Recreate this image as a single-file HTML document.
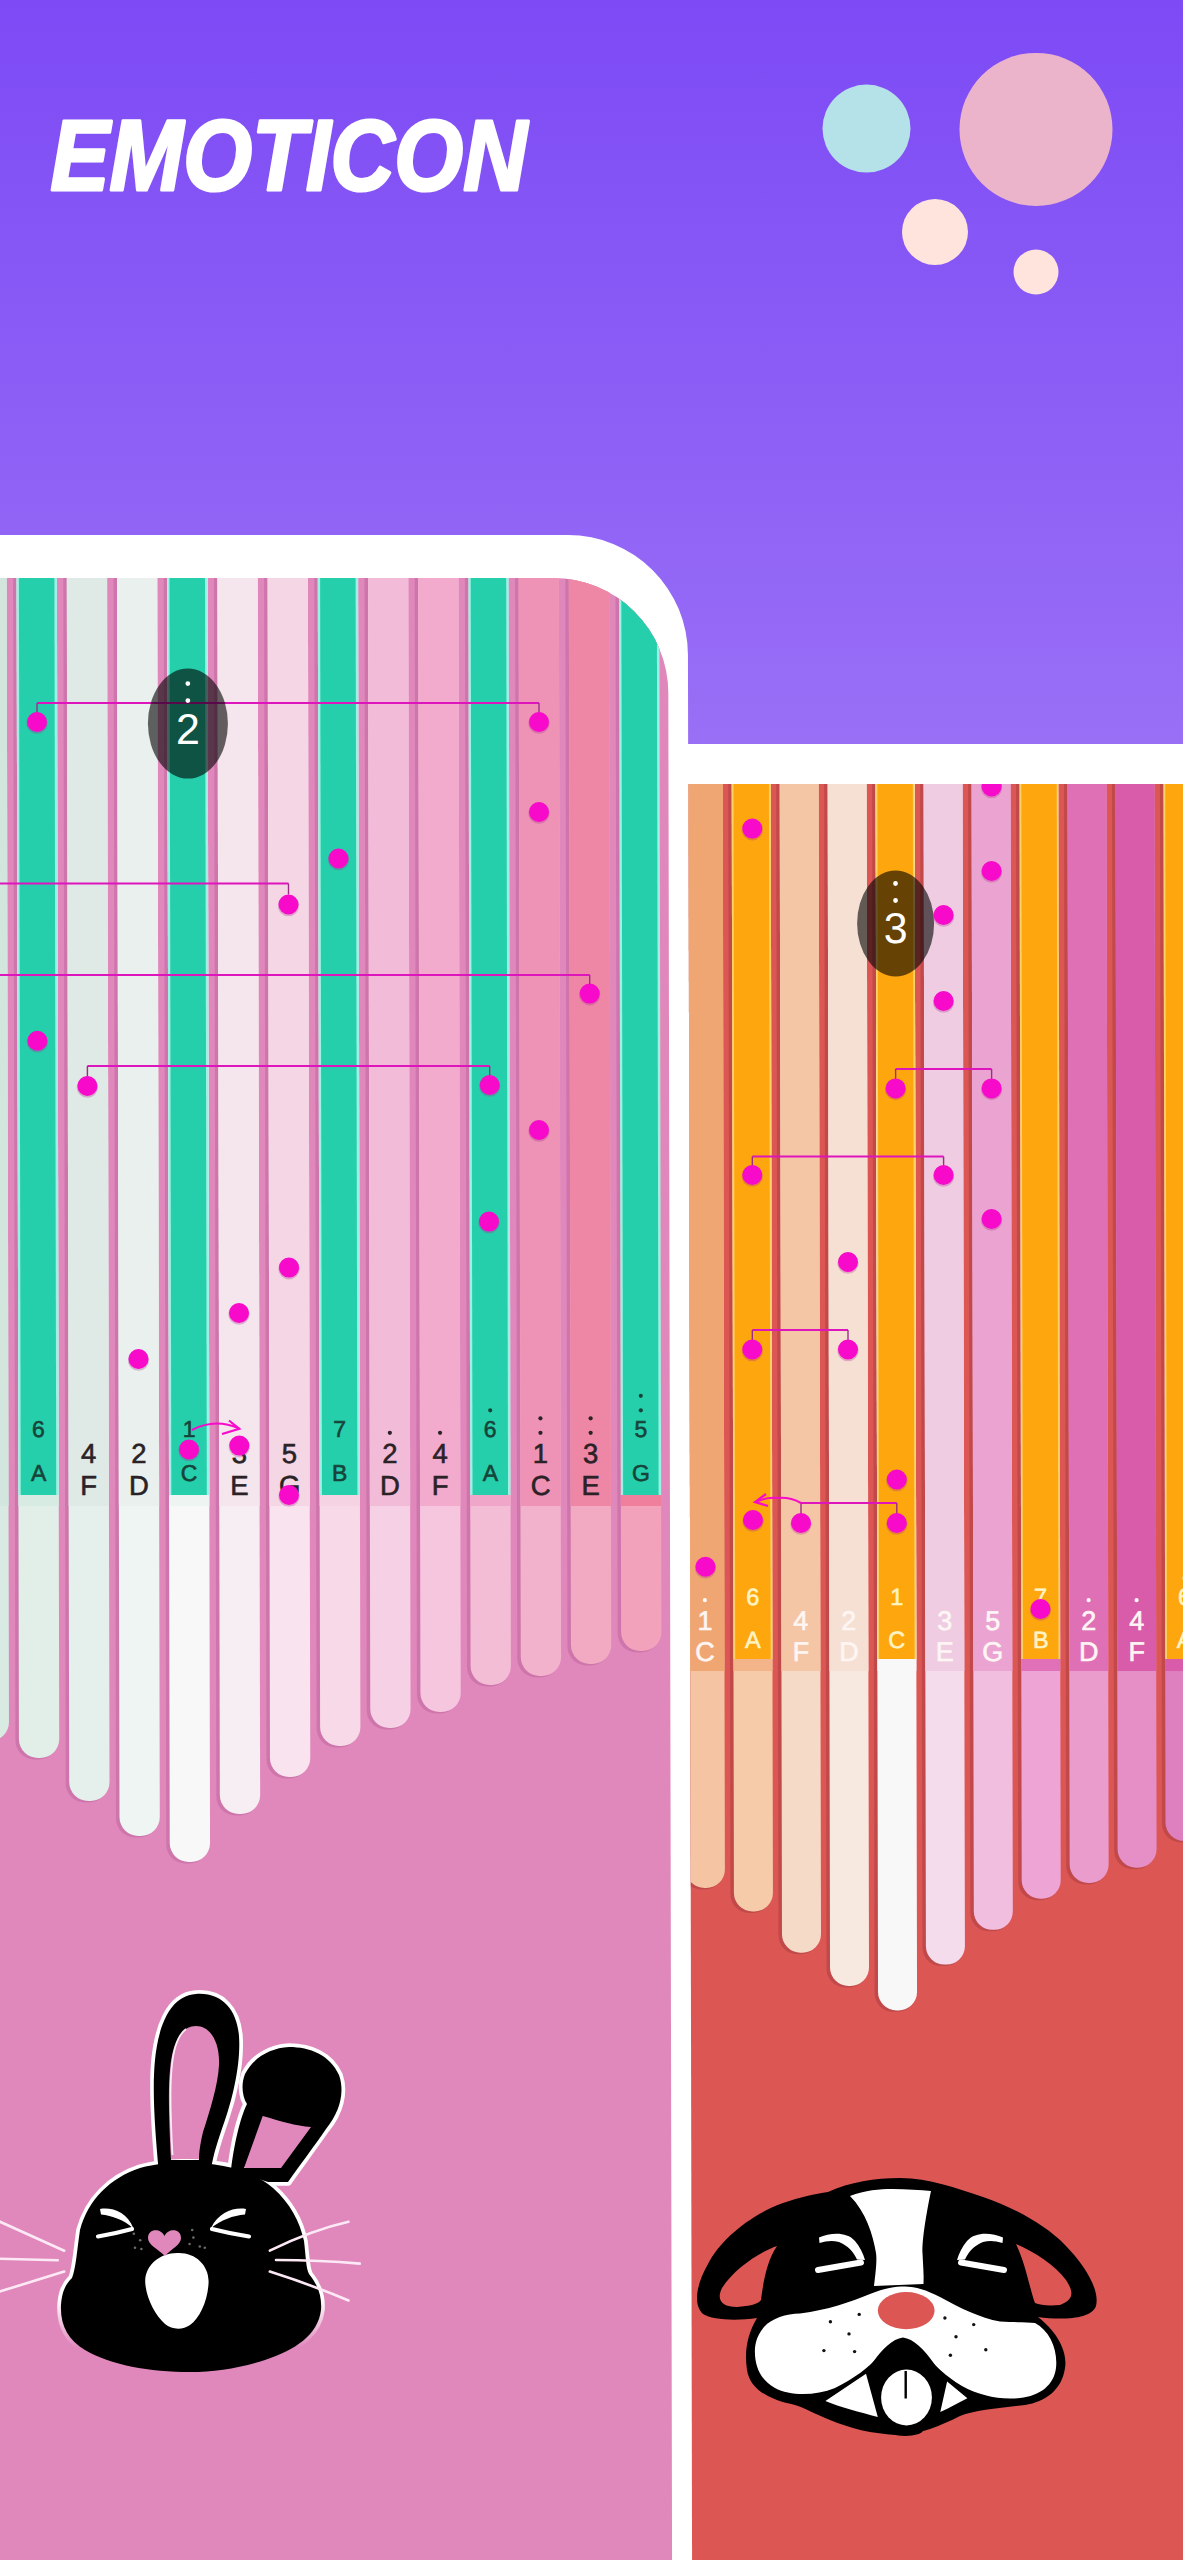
<!DOCTYPE html>
<html><head><meta charset="utf-8"><title>Emoticon</title>
<style>html,body{margin:0;padding:0;background:#fff;overflow:hidden;}svg{display:block;}
text{font-family:'Liberation Sans', Arial, sans-serif;}</style></head>
<body>
<svg width="1183" height="2560" viewBox="0 0 1183 2560">
<defs>
<linearGradient id="bg" x1="0" y1="0" x2="0" y2="760" gradientUnits="userSpaceOnUse">
<stop offset="0" stop-color="#7d4af5"/><stop offset="1" stop-color="#9a70f6"/>
</linearGradient>
<linearGradient id="bout" x1="0" y1="1990" x2="0" y2="2375" gradientUnits="userSpaceOnUse">
<stop offset="0" stop-color="#fff"/><stop offset="0.8" stop-color="#fff"/><stop offset="0.93" stop-color="#fff" stop-opacity="0"/>
</linearGradient>
</defs>
<rect x="0" y="0" width="1183" height="800" fill="url(#bg)"/>
<text x="50.5" y="190.2" fill="#ffffff" stroke="#ffffff" stroke-width="3.2" stroke-linejoin="round" font-size="100" font-weight="bold" font-style="italic" textLength="476.5" lengthAdjust="spacingAndGlyphs">EMOTICON</text>
<circle cx="866.5" cy="128.6" r="44" fill="#b5e2e9"/>
<circle cx="1036" cy="129.4" r="76.5" fill="#ecb4cb"/>
<circle cx="935" cy="232" r="33" fill="#fee4dc"/>
<circle cx="1036" cy="272" r="22.5" fill="#fee4dc"/>
<g transform="matrix(1 0 0.002 1 -1.154 0)">
<path d="M-20,535 H568 A120,120 0 0 1 687.8,655 V2600 H-20 Z" fill="#ffffff"/>
<clipPath id="lclip"><path d="M-20,578 H553 A115,115 0 0 1 668.1,693 V2600 H-20 Z"/></clipPath>
<g clip-path="url(#lclip)">
<rect x="-20" y="560" width="720" height="2050" fill="#e088bc"/>
<path d="M-37.10,560 H5.20 V1723.50 A19,19 0 0 1 -13.80,1742.5 H-18.10 A19,19 0 0 1 -37.10,1723.50 Z" fill="#b8609a" opacity="0.45"/>
<path d="M-33.60,560 H6.70 V1722.00 A19,19 0 0 1 -12.30,1741.0 H-14.60 A19,19 0 0 1 -33.60,1722.00 Z" fill="#d8eae2"/>
<rect x="-33.60" y="560" width="40.3" height="946" fill="#d3e6de"/>
<path d="M13.10,560 H55.40 V1740.50 A19,19 0 0 1 36.40,1759.5 H32.10 A19,19 0 0 1 13.10,1740.50 Z" fill="#b8609a" opacity="0.45"/>
<path d="M16.60,560 H56.90 V1739.00 A19,19 0 0 1 37.90,1758.0 H35.60 A19,19 0 0 1 16.60,1739.00 Z" fill="#e2efe9"/>
<rect x="16.60" y="560" width="40.3" height="946" fill="#d8ebe3"/>
<rect x="16.60" y="560" width="40.3" height="935" fill="#9ff0e4"/>
<rect x="18.90" y="560" width="35.50" height="935" fill="#26cfab"/>
<path d="M63.30,560 H105.60 V1783.50 A19,19 0 0 1 86.60,1802.5 H82.30 A19,19 0 0 1 63.30,1783.50 Z" fill="#b8609a" opacity="0.45"/>
<path d="M66.80,560 H107.10 V1782.00 A19,19 0 0 1 88.10,1801.0 H85.80 A19,19 0 0 1 66.80,1782.00 Z" fill="#e5efeb"/>
<rect x="66.80" y="560" width="40.3" height="946" fill="#dfe9e5"/>
<path d="M113.50,560 H155.80 V1818.50 A19,19 0 0 1 136.80,1837.5 H132.50 A19,19 0 0 1 113.50,1818.50 Z" fill="#b8609a" opacity="0.45"/>
<path d="M117.00,560 H157.30 V1817.00 A19,19 0 0 1 138.30,1836.0 H136.00 A19,19 0 0 1 117.00,1817.00 Z" fill="#eff5f2"/>
<rect x="117.00" y="560" width="40.3" height="946" fill="#e9f0ed"/>
<path d="M163.70,560 H206.00 V1844.50 A19,19 0 0 1 187.00,1863.5 H182.70 A19,19 0 0 1 163.70,1844.50 Z" fill="#b8609a" opacity="0.45"/>
<path d="M167.20,560 H207.50 V1843.00 A19,19 0 0 1 188.50,1862.0 H186.20 A19,19 0 0 1 167.20,1843.00 Z" fill="#f7f8f7"/>
<rect x="167.20" y="560" width="40.3" height="946" fill="#eef4f1"/>
<rect x="167.20" y="560" width="40.3" height="935" fill="#9ff0e4"/>
<rect x="169.50" y="560" width="35.50" height="935" fill="#26cfab"/>
<path d="M213.90,560 H256.20 V1796.50 A19,19 0 0 1 237.20,1815.5 H232.90 A19,19 0 0 1 213.90,1796.50 Z" fill="#b8609a" opacity="0.45"/>
<path d="M217.40,560 H257.70 V1795.00 A19,19 0 0 1 238.70,1814.0 H236.40 A19,19 0 0 1 217.40,1795.00 Z" fill="#f6eef2"/>
<rect x="217.40" y="560" width="40.3" height="946" fill="#f4e6ec"/>
<path d="M264.10,560 H306.40 V1759.50 A19,19 0 0 1 287.40,1778.5 H283.10 A19,19 0 0 1 264.10,1759.50 Z" fill="#b8609a" opacity="0.45"/>
<path d="M267.60,560 H307.90 V1758.00 A19,19 0 0 1 288.90,1777.0 H286.60 A19,19 0 0 1 267.60,1758.00 Z" fill="#f9e3ee"/>
<rect x="267.60" y="560" width="40.3" height="946" fill="#f4d6e5"/>
<path d="M314.30,560 H356.60 V1728.50 A19,19 0 0 1 337.60,1747.5 H333.30 A19,19 0 0 1 314.30,1728.50 Z" fill="#b8609a" opacity="0.45"/>
<path d="M317.80,560 H358.10 V1727.00 A19,19 0 0 1 339.10,1746.0 H336.80 A19,19 0 0 1 317.80,1727.00 Z" fill="#f8d9e8"/>
<rect x="317.80" y="560" width="40.3" height="946" fill="#f6d3e3"/>
<rect x="317.80" y="560" width="40.3" height="935" fill="#9ff0e4"/>
<rect x="320.10" y="560" width="35.50" height="935" fill="#26cfab"/>
<path d="M364.50,560 H406.80 V1710.50 A19,19 0 0 1 387.80,1729.5 H383.50 A19,19 0 0 1 364.50,1710.50 Z" fill="#b8609a" opacity="0.45"/>
<path d="M368.00,560 H408.30 V1709.00 A19,19 0 0 1 389.30,1728.0 H387.00 A19,19 0 0 1 368.00,1709.00 Z" fill="#f6d0e4"/>
<rect x="368.00" y="560" width="40.3" height="946" fill="#f2bcd9"/>
<path d="M414.70,560 H457.00 V1694.50 A19,19 0 0 1 438.00,1713.5 H433.70 A19,19 0 0 1 414.70,1694.50 Z" fill="#b8609a" opacity="0.45"/>
<path d="M418.20,560 H458.50 V1693.00 A19,19 0 0 1 439.50,1712.0 H437.20 A19,19 0 0 1 418.20,1693.00 Z" fill="#f6c6df"/>
<rect x="418.20" y="560" width="40.3" height="946" fill="#f2aacd"/>
<path d="M464.90,560 H507.20 V1667.50 A19,19 0 0 1 488.20,1686.5 H483.90 A19,19 0 0 1 464.90,1667.50 Z" fill="#b8609a" opacity="0.45"/>
<path d="M468.40,560 H508.70 V1666.00 A19,19 0 0 1 489.70,1685.0 H487.40 A19,19 0 0 1 468.40,1666.00 Z" fill="#f4bdd6"/>
<rect x="468.40" y="560" width="40.3" height="946" fill="#f0a6c8"/>
<rect x="468.40" y="560" width="40.3" height="935" fill="#9ff0e4"/>
<rect x="470.70" y="560" width="35.50" height="935" fill="#26cfab"/>
<path d="M515.10,560 H557.40 V1658.50 A19,19 0 0 1 538.40,1677.5 H534.10 A19,19 0 0 1 515.10,1658.50 Z" fill="#b8609a" opacity="0.45"/>
<path d="M518.60,560 H558.90 V1657.00 A19,19 0 0 1 539.90,1676.0 H537.60 A19,19 0 0 1 518.60,1657.00 Z" fill="#f2b2cc"/>
<rect x="518.60" y="560" width="40.3" height="946" fill="#ee92b6"/>
<path d="M565.30,560 H607.60 V1646.50 A19,19 0 0 1 588.60,1665.5 H584.30 A19,19 0 0 1 565.30,1646.50 Z" fill="#b8609a" opacity="0.45"/>
<path d="M568.80,560 H609.10 V1645.00 A19,19 0 0 1 590.10,1664.0 H587.80 A19,19 0 0 1 568.80,1645.00 Z" fill="#f2aac2"/>
<rect x="568.80" y="560" width="40.3" height="946" fill="#ee87a5"/>
<path d="M615.50,560 H657.80 V1633.50 A19,19 0 0 1 638.80,1652.5 H634.50 A19,19 0 0 1 615.50,1633.50 Z" fill="#b8609a" opacity="0.45"/>
<path d="M619.00,560 H659.30 V1632.00 A19,19 0 0 1 640.30,1651.0 H638.00 A19,19 0 0 1 619.00,1632.00 Z" fill="#f2a3bb"/>
<rect x="619.00" y="560" width="40.3" height="946" fill="#ef7f9c"/>
<rect x="619.00" y="560" width="40.3" height="935" fill="#9ff0e4"/>
<rect x="621.30" y="560" width="35.50" height="935" fill="#26cfab"/>
<text x="36.75" y="1437.3" fill="#17443a" stroke="#17443a" stroke-width="0.6" font-size="23" text-anchor="middle">6</text>
<text x="36.75" y="1481.3" fill="#17443a" stroke="#17443a" stroke-width="0.6" font-size="23" text-anchor="middle">A</text>
<text x="86.95" y="1463" fill="#2a2226" stroke="#2a2226" stroke-width="0.6" font-size="27.5" text-anchor="middle">4</text>
<text x="86.95" y="1495.5" fill="#2a2226" stroke="#2a2226" stroke-width="0.6" font-size="27.5" text-anchor="middle">F</text>
<text x="137.15" y="1463" fill="#2a2226" stroke="#2a2226" stroke-width="0.6" font-size="27.5" text-anchor="middle">2</text>
<text x="137.15" y="1495.5" fill="#2a2226" stroke="#2a2226" stroke-width="0.6" font-size="27.5" text-anchor="middle">D</text>
<text x="187.35" y="1437.3" fill="#17443a" stroke="#17443a" stroke-width="0.6" font-size="23" text-anchor="middle">1</text>
<text x="187.35" y="1481.3" fill="#17443a" stroke="#17443a" stroke-width="0.6" font-size="23" text-anchor="middle">C</text>
<text x="237.55" y="1463" fill="#2a2226" stroke="#2a2226" stroke-width="0.6" font-size="27.5" text-anchor="middle">3</text>
<text x="237.55" y="1495.5" fill="#2a2226" stroke="#2a2226" stroke-width="0.6" font-size="27.5" text-anchor="middle">E</text>
<text x="287.75" y="1463" fill="#2a2226" stroke="#2a2226" stroke-width="0.6" font-size="27.5" text-anchor="middle">5</text>
<text x="287.75" y="1495.5" fill="#2a2226" stroke="#2a2226" stroke-width="0.6" font-size="27.5" text-anchor="middle">G</text>
<text x="337.95" y="1437.3" fill="#17443a" stroke="#17443a" stroke-width="0.6" font-size="23" text-anchor="middle">7</text>
<text x="337.95" y="1481.3" fill="#17443a" stroke="#17443a" stroke-width="0.6" font-size="23" text-anchor="middle">B</text>
<text x="388.15" y="1463" fill="#2a2226" stroke="#2a2226" stroke-width="0.6" font-size="27.5" text-anchor="middle">2</text>
<text x="388.15" y="1495.5" fill="#2a2226" stroke="#2a2226" stroke-width="0.6" font-size="27.5" text-anchor="middle">D</text>
<circle cx="388.15" cy="1432.8" r="2.1" fill="#2a2226"/>
<text x="438.35" y="1463" fill="#2a2226" stroke="#2a2226" stroke-width="0.6" font-size="27.5" text-anchor="middle">4</text>
<text x="438.35" y="1495.5" fill="#2a2226" stroke="#2a2226" stroke-width="0.6" font-size="27.5" text-anchor="middle">F</text>
<circle cx="438.35" cy="1432.8" r="2.1" fill="#2a2226"/>
<text x="488.55" y="1437.3" fill="#17443a" stroke="#17443a" stroke-width="0.6" font-size="23" text-anchor="middle">6</text>
<text x="488.55" y="1481.3" fill="#17443a" stroke="#17443a" stroke-width="0.6" font-size="23" text-anchor="middle">A</text>
<circle cx="488.55" cy="1410.3" r="2.1" fill="#17443a"/>
<text x="538.75" y="1463" fill="#2a2226" stroke="#2a2226" stroke-width="0.6" font-size="27.5" text-anchor="middle">1</text>
<text x="538.75" y="1495.5" fill="#2a2226" stroke="#2a2226" stroke-width="0.6" font-size="27.5" text-anchor="middle">C</text>
<circle cx="538.75" cy="1432.8" r="2.1" fill="#2a2226"/>
<circle cx="538.75" cy="1418.3" r="2.1" fill="#2a2226"/>
<text x="588.95" y="1463" fill="#2a2226" stroke="#2a2226" stroke-width="0.6" font-size="27.5" text-anchor="middle">3</text>
<text x="588.95" y="1495.5" fill="#2a2226" stroke="#2a2226" stroke-width="0.6" font-size="27.5" text-anchor="middle">E</text>
<circle cx="588.95" cy="1432.8" r="2.1" fill="#2a2226"/>
<circle cx="588.95" cy="1418.3" r="2.1" fill="#2a2226"/>
<text x="639.15" y="1437.3" fill="#17443a" stroke="#17443a" stroke-width="0.6" font-size="23" text-anchor="middle">5</text>
<text x="639.15" y="1481.3" fill="#17443a" stroke="#17443a" stroke-width="0.6" font-size="23" text-anchor="middle">G</text>
<circle cx="639.15" cy="1410.3" r="2.1" fill="#17443a"/>
<circle cx="639.15" cy="1395.8" r="2.1" fill="#17443a"/>
<path d="M36.75,703 H538.75" stroke="#de14bd" stroke-width="2.2" fill="none"/>
<path d="M36.75,703 V714" stroke="#9c2d86" stroke-width="1.4" fill="none"/>
<path d="M538.75,703 V714" stroke="#9c2d86" stroke-width="1.4" fill="none"/>
<path d="M-10.61,883.5 H287.89" stroke="#de14bd" stroke-width="2.2" fill="none"/>
<path d="M287.89,883.5 V894.5" stroke="#9c2d86" stroke-width="1.4" fill="none"/>
<path d="M-10.8,975 H588.9" stroke="#de14bd" stroke-width="2.2" fill="none"/>
<path d="M588.9,975 V986" stroke="#9c2d86" stroke-width="1.4" fill="none"/>
<path d="M86.42,1066 H488.72" stroke="#de14bd" stroke-width="2.2" fill="none"/>
<path d="M86.42,1066 V1077" stroke="#9c2d86" stroke-width="1.4" fill="none"/>
<path d="M488.72,1066 V1077" stroke="#9c2d86" stroke-width="1.4" fill="none"/>
<circle cx="36.71" cy="723.2" r="10.6" fill="#a8308a" opacity="0.3"/>
<circle cx="36.71" cy="722" r="10" fill="#f80acb"/>
<circle cx="538.71" cy="723.2" r="10.6" fill="#a8308a" opacity="0.3"/>
<circle cx="538.71" cy="722" r="10" fill="#f80acb"/>
<circle cx="538.53" cy="813.2" r="10.6" fill="#a8308a" opacity="0.3"/>
<circle cx="538.53" cy="812" r="10" fill="#f80acb"/>
<circle cx="337.94" cy="859.7" r="10.6" fill="#a8308a" opacity="0.3"/>
<circle cx="337.94" cy="858.5" r="10" fill="#f80acb"/>
<circle cx="287.85" cy="905.7" r="10.6" fill="#a8308a" opacity="0.3"/>
<circle cx="287.85" cy="904.5" r="10" fill="#f80acb"/>
<circle cx="588.87" cy="994.8000000000001" r="10.6" fill="#a8308a" opacity="0.3"/>
<circle cx="588.87" cy="993.6" r="10" fill="#f80acb"/>
<circle cx="36.47" cy="1041.9" r="10.6" fill="#a8308a" opacity="0.3"/>
<circle cx="36.47" cy="1040.7" r="10" fill="#f80acb"/>
<circle cx="86.38" cy="1087.2" r="10.6" fill="#a8308a" opacity="0.3"/>
<circle cx="86.38" cy="1086" r="10" fill="#f80acb"/>
<circle cx="488.68" cy="1086.2" r="10.6" fill="#a8308a" opacity="0.3"/>
<circle cx="488.68" cy="1085" r="10" fill="#f80acb"/>
<circle cx="537.89" cy="1131.2" r="10.6" fill="#a8308a" opacity="0.3"/>
<circle cx="537.89" cy="1130" r="10" fill="#f80acb"/>
<circle cx="487.71" cy="1222.8" r="10.6" fill="#a8308a" opacity="0.3"/>
<circle cx="487.71" cy="1221.6" r="10" fill="#f80acb"/>
<circle cx="287.62" cy="1268.8" r="10.6" fill="#a8308a" opacity="0.3"/>
<circle cx="287.62" cy="1267.6" r="10" fill="#f80acb"/>
<circle cx="237.53" cy="1314.2" r="10.6" fill="#a8308a" opacity="0.3"/>
<circle cx="237.53" cy="1313" r="10" fill="#f80acb"/>
<circle cx="136.94" cy="1360.2" r="10.6" fill="#a8308a" opacity="0.3"/>
<circle cx="136.94" cy="1359" r="10" fill="#f80acb"/>
<circle cx="187.25" cy="1450.7" r="10.6" fill="#a8308a" opacity="0.3"/>
<circle cx="187.25" cy="1449.5" r="10" fill="#f80acb"/>
<circle cx="237.56" cy="1446.8" r="10.6" fill="#a8308a" opacity="0.3"/>
<circle cx="237.56" cy="1445.6" r="10" fill="#f80acb"/>
<circle cx="287.16" cy="1496.2" r="10.6" fill="#a8308a" opacity="0.3"/>
<circle cx="287.16" cy="1495" r="10" fill="#f80acb"/>
<path d="M190.29,1430 Q213.32,1418 237.3,1428.5" stroke="#f80acb" stroke-width="2" fill="none"/>
<path d="M227.31,1420.5 L237.6,1428.8 L220.29,1434" stroke="#f80acb" stroke-width="2.2" fill="none"/>
<ellipse cx="187.61" cy="723.6" rx="40" ry="55" fill="#000" opacity="0.6"/>
<circle cx="187.61" cy="683.6" r="2.4" fill="#fff"/>
<circle cx="187.61" cy="700.6" r="2.4" fill="#fff"/>
<text x="187.61" y="743.6" fill="#fff" font-size="43" text-anchor="middle">2</text>
<g transform="matrix(1 0 -0.002 1 1.154 0)">
<path d="M158.6,2170 C155,2130 152,2090 155,2060 C158,2030 168,1996 195.8,1994 C222,1992 237,2010 239,2036 C241,2065 232,2100 225,2120 C218,2140 213,2155 211,2170 Z " fill="none" stroke="url(#bout)" stroke-width="7.5" stroke-linejoin="round"/>
<path d="M231,2170 C234,2145 240,2118 247,2104 C242,2096 241,2084 245,2074 C253,2058 270,2048 289,2047 C310,2047 330,2055 339,2075 C345,2092 340,2112 326,2129 C315,2145 300,2165 288,2182 L268,2182 Z " fill="none" stroke="url(#bout)" stroke-width="7.5" stroke-linejoin="round"/>
<path d="M182,2162.8 C215,2162 250,2168 273,2188 C290,2203 300,2222 304,2241 C306,2258 306,2268 309,2274 C318,2285 322,2296 321,2310 C318,2335 295,2350 265,2360 C240,2368 215,2372 190,2372 C150,2372 110,2365 85,2350 C68,2340 60,2325 61,2305 C62,2292 65,2285 72,2278 C76,2268 77,2250 80,2230 C88,2200 110,2178 140,2168 C155,2164 170,2163 182,2162.8 Z" fill="none" stroke="url(#bout)" stroke-width="7.5" stroke-linejoin="round"/>
<path d="M158.6,2170 C155,2130 152,2090 155,2060 C158,2030 168,1996 195.8,1994 C222,1992 237,2010 239,2036 C241,2065 232,2100 225,2120 C218,2140 213,2155 211,2170 Z M171,2160 C169,2120 168,2090 170,2070 C172,2045 180,2026 196,2026 C212,2026 220,2045 219,2065 C218,2085 210,2110 203,2132 C200,2145 199,2152 199,2160 Z" fill="#000" fill-rule="evenodd"/>
<path d="M231,2170 C234,2145 240,2118 247,2104 C242,2096 241,2084 245,2074 C253,2058 270,2048 289,2047 C310,2047 330,2055 339,2075 C345,2092 340,2112 326,2129 C315,2145 300,2165 288,2182 L268,2182 Z M244,2168 L262.7,2116 C280,2121 296,2126 311,2127 L281,2168 Z" fill="#000" fill-rule="evenodd"/>
<path d="M182,2162.8 C215,2162 250,2168 273,2188 C290,2203 300,2222 304,2241 C306,2258 306,2268 309,2274 C318,2285 322,2296 321,2310 C318,2335 295,2350 265,2360 C240,2368 215,2372 190,2372 C150,2372 110,2365 85,2350 C68,2340 60,2325 61,2305 C62,2292 65,2285 72,2278 C76,2268 77,2250 80,2230 C88,2200 110,2178 140,2168 C155,2164 170,2163 182,2162.8 Z" fill="#000" fill-rule="evenodd"/>
<path d="M172.5,2155 C170.5,2120 169.5,2090 171.5,2070 C173,2050 178,2035 186,2029" stroke="#fff" stroke-width="1.8" fill="none" opacity="0.85"/>
<path d="M100,2209 C112,2207 127,2212 133.5,2228.5 C124,2220 112,2215.5 101,2214.5 Z" fill="#fff"/>
<path d="M132,2229 C121,2232 110,2234.5 98,2236.5" stroke="#fff" stroke-width="4.2" fill="none" stroke-linecap="round"/>
<path d="M246,2209 C234,2207 219,2212 211,2228 C221,2220 233,2215.5 245,2214.5 Z" fill="#fff"/>
<path d="M212,2229 C224,2232 236,2234.5 249,2236.5" stroke="#fff" stroke-width="4.2" fill="none" stroke-linecap="round"/>
<path d="M177,2253 C195,2252 209,2265 208.6,2282 C208,2300 200,2318 190,2325 C183,2330 172,2330 165,2324 C155,2315 146,2298 145.2,2282 C145,2265 160,2253 177,2253 Z" fill="#fff"/>
<path d="M164.5,2236 C161,2228 148,2228 148,2238 C148,2245 158,2249 165,2256 C171,2249 181,2245 181,2238 C181,2228 168,2228 164.5,2236 Z" fill="#e088bc"/>
<circle cx="133.8" cy="2233.8" r="1.3" fill="#6a6a6a"/>
<circle cx="140.2" cy="2240.2" r="1.3" fill="#6a6a6a"/>
<circle cx="135" cy="2247.8" r="1.3" fill="#6a6a6a"/>
<circle cx="141.4" cy="2249" r="1.3" fill="#6a6a6a"/>
<circle cx="192.2" cy="2230" r="1.3" fill="#6a6a6a"/>
<circle cx="193.4" cy="2237.6" r="1.3" fill="#6a6a6a"/>
<circle cx="199.8" cy="2246.5" r="1.3" fill="#6a6a6a"/>
<circle cx="204.8" cy="2247.8" r="1.3" fill="#6a6a6a"/>
<circle cx="189.6" cy="2244" r="1.3" fill="#6a6a6a"/>
<path d="M-5,2219.5 L64.2,2250.7" stroke="#fde9f5" stroke-width="2.6" fill="none" stroke-linecap="round"/>
<path d="M-5,2258.6 L57.8,2260.3" stroke="#fde9f5" stroke-width="2.6" fill="none" stroke-linecap="round"/>
<path d="M-5,2293 L64.2,2271.6" stroke="#fde9f5" stroke-width="2.6" fill="none" stroke-linecap="round"/>
<path d="M269.8,2250.7 Q312,2230 348.5,2221.8" stroke="#fde9f5" stroke-width="2.6" fill="none" stroke-linecap="round"/>
<path d="M276,2260 Q320,2260 359.8,2263.6" stroke="#fde9f5" stroke-width="2.6" fill="none" stroke-linecap="round"/>
<path d="M269.8,2271.6 Q312,2285 348.5,2300.5" stroke="#fde9f5" stroke-width="2.6" fill="none" stroke-linecap="round"/>
</g>
</g>
<rect x="680" y="744" width="530" height="1860" fill="#ffffff"/>
<clipPath id="rclip"><path d="M688.1,784 H1220 V2600 H688.1 Z"/></clipPath>
<g clip-path="url(#rclip)">
<rect x="680" y="780" width="540" height="1830" fill="#dc5753"/>
<path d="M679.82,770 H720.82 V1871.00 A18.5,18.5 0 0 1 702.32,1889.5 H698.32 A18.5,18.5 0 0 1 679.82,1871.00 Z" fill="#a23a40" opacity="0.45"/>
<path d="M683.32,770 H722.32 V1869.50 A18.5,18.5 0 0 1 703.82,1888 H701.82 A18.5,18.5 0 0 1 683.32,1869.50 Z" fill="#f5c4a2"/>
<rect x="683.32" y="770" width="39" height="901" fill="#f0a672"/>
<path d="M727.79,770 H768.79 V1894.50 A18.5,18.5 0 0 1 750.29,1913.0 H746.29 A18.5,18.5 0 0 1 727.79,1894.50 Z" fill="#a23a40" opacity="0.45"/>
<path d="M731.29,770 H770.29 V1893.00 A18.5,18.5 0 0 1 751.79,1911.5 H749.79 A18.5,18.5 0 0 1 731.29,1893.00 Z" fill="#f6cbaa"/>
<rect x="731.29" y="770" width="39" height="901" fill="#f3b48a"/>
<rect x="731.29" y="770" width="39" height="889" fill="#f9d36a"/>
<rect x="733.09" y="770" width="35.40" height="889" fill="#fea60e"/>
<path d="M775.76,770 H816.76 V1935.70 A18.5,18.5 0 0 1 798.26,1954.2 H794.26 A18.5,18.5 0 0 1 775.76,1935.70 Z" fill="#a23a40" opacity="0.45"/>
<path d="M779.26,770 H818.26 V1934.20 A18.5,18.5 0 0 1 799.76,1952.7 H797.76 A18.5,18.5 0 0 1 779.26,1934.20 Z" fill="#f6dac8"/>
<rect x="779.26" y="770" width="39" height="901" fill="#f5c6a6"/>
<path d="M823.73,770 H864.73 V1969.00 A18.5,18.5 0 0 1 846.23,1987.5 H842.23 A18.5,18.5 0 0 1 823.73,1969.00 Z" fill="#a23a40" opacity="0.45"/>
<path d="M827.23,770 H866.23 V1967.50 A18.5,18.5 0 0 1 847.73,1986 H845.73 A18.5,18.5 0 0 1 827.23,1967.50 Z" fill="#f7e9e0"/>
<rect x="827.23" y="770" width="39" height="901" fill="#f6e0d3"/>
<path d="M871.70,770 H912.70 V1993.50 A18.5,18.5 0 0 1 894.20,2012.0 H890.20 A18.5,18.5 0 0 1 871.70,1993.50 Z" fill="#a23a40" opacity="0.45"/>
<path d="M875.20,770 H914.20 V1992.00 A18.5,18.5 0 0 1 895.70,2010.5 H893.70 A18.5,18.5 0 0 1 875.20,1992.00 Z" fill="#f8f8f8"/>
<rect x="875.20" y="770" width="39" height="901" fill="#f8f8f8"/>
<rect x="875.20" y="770" width="39" height="889" fill="#f9d36a"/>
<rect x="877.00" y="770" width="35.40" height="889" fill="#fea60e"/>
<path d="M919.67,770 H960.67 V1947.60 A18.5,18.5 0 0 1 942.17,1966.1 H938.17 A18.5,18.5 0 0 1 919.67,1947.60 Z" fill="#a23a40" opacity="0.45"/>
<path d="M923.17,770 H962.17 V1946.10 A18.5,18.5 0 0 1 943.67,1964.6 H941.67 A18.5,18.5 0 0 1 923.17,1946.10 Z" fill="#f5dcec"/>
<rect x="923.17" y="770" width="39" height="901" fill="#f0cce2"/>
<path d="M967.64,770 H1008.64 V1912.80 A18.5,18.5 0 0 1 990.14,1931.3 H986.14 A18.5,18.5 0 0 1 967.64,1912.80 Z" fill="#a23a40" opacity="0.45"/>
<path d="M971.14,770 H1010.14 V1911.30 A18.5,18.5 0 0 1 991.64,1929.8 H989.64 A18.5,18.5 0 0 1 971.14,1911.30 Z" fill="#f2bee0"/>
<rect x="971.14" y="770" width="39" height="901" fill="#eba4d2"/>
<path d="M1015.61,770 H1056.61 V1881.70 A18.5,18.5 0 0 1 1038.11,1900.2 H1034.11 A18.5,18.5 0 0 1 1015.61,1881.70 Z" fill="#a23a40" opacity="0.45"/>
<path d="M1019.11,770 H1058.11 V1880.20 A18.5,18.5 0 0 1 1039.61,1898.7 H1037.61 A18.5,18.5 0 0 1 1019.11,1880.20 Z" fill="#eea4d5"/>
<rect x="1019.11" y="770" width="39" height="901" fill="#e070b8"/>
<rect x="1019.11" y="770" width="39" height="889" fill="#f9d36a"/>
<rect x="1020.91" y="770" width="35.40" height="889" fill="#fea60e"/>
<path d="M1063.58,770 H1104.58 V1866.00 A18.5,18.5 0 0 1 1086.08,1884.5 H1082.08 A18.5,18.5 0 0 1 1063.58,1866.00 Z" fill="#a23a40" opacity="0.45"/>
<path d="M1067.08,770 H1106.08 V1864.50 A18.5,18.5 0 0 1 1087.58,1883 H1085.58 A18.5,18.5 0 0 1 1067.08,1864.50 Z" fill="#ea9ccc"/>
<rect x="1067.08" y="770" width="39" height="901" fill="#e070b6"/>
<path d="M1111.55,770 H1152.55 V1850.70 A18.5,18.5 0 0 1 1134.05,1869.2 H1130.05 A18.5,18.5 0 0 1 1111.55,1850.70 Z" fill="#a23a40" opacity="0.45"/>
<path d="M1115.05,770 H1154.05 V1849.20 A18.5,18.5 0 0 1 1135.55,1867.7 H1133.55 A18.5,18.5 0 0 1 1115.05,1849.20 Z" fill="#e68ec6"/>
<rect x="1115.05" y="770" width="39" height="901" fill="#d85ca9"/>
<path d="M1159.52,770 H1200.52 V1824.00 A18.5,18.5 0 0 1 1182.02,1842.5 H1178.02 A18.5,18.5 0 0 1 1159.52,1824.00 Z" fill="#a23a40" opacity="0.45"/>
<path d="M1163.02,770 H1202.02 V1822.50 A18.5,18.5 0 0 1 1183.52,1841 H1181.52 A18.5,18.5 0 0 1 1163.02,1822.50 Z" fill="#de80bf"/>
<rect x="1163.02" y="770" width="39" height="901" fill="#d85ca9"/>
<rect x="1163.02" y="770" width="39" height="889" fill="#f9d36a"/>
<rect x="1164.82" y="770" width="35.40" height="889" fill="#fea60e"/>
<text x="702.82" y="1630" fill="#fdf6f4" stroke="#fdf6f4" stroke-width="0.6" font-size="27" text-anchor="middle">1</text>
<text x="702.82" y="1661" fill="#fdf6f4" stroke="#fdf6f4" stroke-width="0.6" font-size="27" text-anchor="middle">C</text>
<circle cx="702.82" cy="1600.2" r="2.1" fill="#fdf6f4"/>
<text x="750.79" y="1605.5" fill="#fff3c4" stroke="#fff3c4" stroke-width="0.6" font-size="23.5" text-anchor="middle">6</text>
<text x="750.79" y="1648" fill="#fff3c4" stroke="#fff3c4" stroke-width="0.6" font-size="23.5" text-anchor="middle">A</text>
<text x="798.76" y="1630" fill="#fdf6f4" stroke="#fdf6f4" stroke-width="0.6" font-size="27" text-anchor="middle">4</text>
<text x="798.76" y="1661" fill="#fdf6f4" stroke="#fdf6f4" stroke-width="0.6" font-size="27" text-anchor="middle">F</text>
<text x="846.73" y="1630" fill="#fdf6f4" stroke="#fdf6f4" stroke-width="0.6" font-size="27" text-anchor="middle">2</text>
<text x="846.73" y="1661" fill="#fdf6f4" stroke="#fdf6f4" stroke-width="0.6" font-size="27" text-anchor="middle">D</text>
<text x="894.70" y="1605.5" fill="#fff3c4" stroke="#fff3c4" stroke-width="0.6" font-size="23.5" text-anchor="middle">1</text>
<text x="894.70" y="1648" fill="#fff3c4" stroke="#fff3c4" stroke-width="0.6" font-size="23.5" text-anchor="middle">C</text>
<text x="942.67" y="1630" fill="#fdf6f4" stroke="#fdf6f4" stroke-width="0.6" font-size="27" text-anchor="middle">3</text>
<text x="942.67" y="1661" fill="#fdf6f4" stroke="#fdf6f4" stroke-width="0.6" font-size="27" text-anchor="middle">E</text>
<text x="990.64" y="1630" fill="#fdf6f4" stroke="#fdf6f4" stroke-width="0.6" font-size="27" text-anchor="middle">5</text>
<text x="990.64" y="1661" fill="#fdf6f4" stroke="#fdf6f4" stroke-width="0.6" font-size="27" text-anchor="middle">G</text>
<text x="1038.61" y="1605.5" fill="#fff3c4" stroke="#fff3c4" stroke-width="0.6" font-size="23.5" text-anchor="middle">7</text>
<text x="1038.61" y="1648" fill="#fff3c4" stroke="#fff3c4" stroke-width="0.6" font-size="23.5" text-anchor="middle">B</text>
<text x="1086.58" y="1630" fill="#fdf6f4" stroke="#fdf6f4" stroke-width="0.6" font-size="27" text-anchor="middle">2</text>
<text x="1086.58" y="1661" fill="#fdf6f4" stroke="#fdf6f4" stroke-width="0.6" font-size="27" text-anchor="middle">D</text>
<circle cx="1086.58" cy="1600.2" r="2.1" fill="#fdf6f4"/>
<text x="1134.55" y="1630" fill="#fdf6f4" stroke="#fdf6f4" stroke-width="0.6" font-size="27" text-anchor="middle">4</text>
<text x="1134.55" y="1661" fill="#fdf6f4" stroke="#fdf6f4" stroke-width="0.6" font-size="27" text-anchor="middle">F</text>
<circle cx="1134.55" cy="1600.2" r="2.1" fill="#fdf6f4"/>
<text x="1182.52" y="1605.5" fill="#fff3c4" stroke="#fff3c4" stroke-width="0.6" font-size="23.5" text-anchor="middle">6</text>
<text x="1182.52" y="1648" fill="#fff3c4" stroke="#fff3c4" stroke-width="0.6" font-size="23.5" text-anchor="middle">A</text>
<circle cx="1182.52" cy="1578.2" r="2.1" fill="#fff3c4"/>
<path d="M894.62,1069 H990.62" stroke="#de14bd" stroke-width="2.2" fill="none"/>
<path d="M894.62,1069 V1080" stroke="#9c2d86" stroke-width="1.4" fill="none"/>
<path d="M990.62,1069 V1080" stroke="#9c2d86" stroke-width="1.4" fill="none"/>
<path d="M751.14,1156.5 H942.44" stroke="#de14bd" stroke-width="2.2" fill="none"/>
<path d="M751.14,1156.5 V1167.5" stroke="#9c2d86" stroke-width="1.4" fill="none"/>
<path d="M942.44,1156.5 V1167.5" stroke="#9c2d86" stroke-width="1.4" fill="none"/>
<path d="M750.79,1330 H846.49" stroke="#de14bd" stroke-width="2.2" fill="none"/>
<path d="M750.79,1330 V1341" stroke="#9c2d86" stroke-width="1.4" fill="none"/>
<path d="M846.49,1330 V1341" stroke="#9c2d86" stroke-width="1.4" fill="none"/>
<path d="M799.15,1503 H894.95" stroke="#de14bd" stroke-width="2.2" fill="none"/>
<path d="M799.15,1503 V1514" stroke="#9c2d86" stroke-width="1.4" fill="none"/>
<path d="M894.95,1503 V1514" stroke="#9c2d86" stroke-width="1.4" fill="none"/>
<circle cx="991.18" cy="787.7" r="10.6" fill="#a8308a" opacity="0.3"/>
<circle cx="991.18" cy="786.5" r="10" fill="#f80acb"/>
<circle cx="751.8" cy="829.8000000000001" r="10.6" fill="#a8308a" opacity="0.3"/>
<circle cx="751.8" cy="828.6" r="10" fill="#f80acb"/>
<circle cx="991.01" cy="872.2" r="10.6" fill="#a8308a" opacity="0.3"/>
<circle cx="991.01" cy="871" r="10" fill="#f80acb"/>
<circle cx="942.92" cy="916.2" r="10.6" fill="#a8308a" opacity="0.3"/>
<circle cx="942.92" cy="915" r="10" fill="#f80acb"/>
<circle cx="942.75" cy="1002.2" r="10.6" fill="#a8308a" opacity="0.3"/>
<circle cx="942.75" cy="1001" r="10" fill="#f80acb"/>
<circle cx="894.58" cy="1089.6000000000001" r="10.6" fill="#a8308a" opacity="0.3"/>
<circle cx="894.58" cy="1088.4" r="10" fill="#f80acb"/>
<circle cx="990.58" cy="1089.6000000000001" r="10.6" fill="#a8308a" opacity="0.3"/>
<circle cx="990.58" cy="1088.4" r="10" fill="#f80acb"/>
<circle cx="751.1" cy="1176.2" r="10.6" fill="#a8308a" opacity="0.3"/>
<circle cx="751.1" cy="1175" r="10" fill="#f80acb"/>
<circle cx="942.4" cy="1176.2" r="10.6" fill="#a8308a" opacity="0.3"/>
<circle cx="942.4" cy="1175" r="10" fill="#f80acb"/>
<circle cx="990.32" cy="1220.2" r="10.6" fill="#a8308a" opacity="0.3"/>
<circle cx="990.32" cy="1219" r="10" fill="#f80acb"/>
<circle cx="846.63" cy="1263.2" r="10.6" fill="#a8308a" opacity="0.3"/>
<circle cx="846.63" cy="1262" r="10" fill="#f80acb"/>
<circle cx="750.75" cy="1350.7" r="10.6" fill="#a8308a" opacity="0.3"/>
<circle cx="750.75" cy="1349.5" r="10" fill="#f80acb"/>
<circle cx="846.46" cy="1350.7" r="10.6" fill="#a8308a" opacity="0.3"/>
<circle cx="846.46" cy="1349.5" r="10" fill="#f80acb"/>
<circle cx="895.0" cy="1480.7" r="10.6" fill="#a8308a" opacity="0.3"/>
<circle cx="895.0" cy="1479.5" r="10" fill="#f80acb"/>
<circle cx="751.11" cy="1521.2" r="10.6" fill="#a8308a" opacity="0.3"/>
<circle cx="751.11" cy="1520" r="10" fill="#f80acb"/>
<circle cx="799.11" cy="1524.2" r="10.6" fill="#a8308a" opacity="0.3"/>
<circle cx="799.11" cy="1523" r="10" fill="#f80acb"/>
<circle cx="894.91" cy="1524.2" r="10.6" fill="#a8308a" opacity="0.3"/>
<circle cx="894.91" cy="1523" r="10" fill="#f80acb"/>
<circle cx="703.52" cy="1567.9" r="10.6" fill="#a8308a" opacity="0.3"/>
<circle cx="703.52" cy="1566.7" r="10" fill="#f80acb"/>
<circle cx="1038.44" cy="1610.2" r="10.6" fill="#a8308a" opacity="0.3"/>
<circle cx="1038.44" cy="1609" r="10" fill="#f80acb"/>
<path d="M799.15,1503 Q788.16,1497 776.16,1498 Q763.16,1497 754.15,1502" stroke="#f80acb" stroke-width="2" fill="none"/>
<path d="M764.17,1494 L753.15,1502 L766.14,1506" stroke="#f80acb" stroke-width="2.2" fill="none"/>
<ellipse cx="894.91" cy="923.5" rx="38.5" ry="53" fill="#000" opacity="0.6"/>
<circle cx="894.91" cy="883.5" r="2.4" fill="#fff"/>
<circle cx="894.91" cy="900.5" r="2.4" fill="#fff"/>
<text x="894.91" y="943.5" fill="#fff" font-size="43" text-anchor="middle">3</text>
<g transform="matrix(1 0 -0.002 1 1.154 0)">
<path d="M757,2318 C736,2321 712,2320 703,2314 C693,2305 696,2285 708,2264 C720,2240 750,2215 783,2203 C800,2197 815,2194 828,2192 C850,2182 875,2178 900,2178 C930,2178 955,2188 983,2197 C1010,2206 1045,2224 1065,2245 C1085,2265 1100,2290 1096,2306 C1091,2320 1060,2320 1038,2317 C1055,2330 1068,2350 1065,2368 C1062,2390 1045,2402 1025,2405 C1000,2408 975,2410 960,2416 C940,2426 920,2434 900,2435 C870,2434 850,2428 830,2420 C815,2414 805,2408 795,2405 C770,2400 750,2390 747,2370 C744,2350 748,2333 757,2318 Z" fill="#000"/>
<path d="M777,2246 C760,2252 735,2268 722,2288 C716,2300 722,2307 737,2307 C750,2306 758,2304 761,2300 C763,2285 766,2262 777,2246 Z" fill="#dc5753"/>
<path d="M1016,2244 C1035,2252 1055,2265 1066,2280 C1074,2292 1074,2300 1060,2305 C1048,2306 1040,2305 1035,2303 C1030,2290 1026,2265 1016,2244 Z" fill="#dc5753"/>
<path d="M850,2196 C865,2190 880,2189 892,2189 C907,2189 920,2190 931,2191 C926,2215 922,2240 922.5,2253 C923,2265 924,2275 923.5,2284 L874,2286 C876,2270 877,2260 876,2253 C873,2235 866,2212 850,2196 Z" fill="#fff"/>
<path d="M764,2327 C772,2318 786,2314 800,2313.5 C828,2310 850,2302 870,2294 C885,2288 895,2286.5 905,2286.5 C916,2286.5 926,2290 940,2297 C960,2308 980,2318 1000,2321.5 C1015,2322.5 1027,2322 1035,2323 C1050,2331 1058,2350 1056,2368 C1054,2385 1040,2396 1020,2398 C1000,2400 980,2396 962,2386 C945,2376 935,2365 925,2355 L880,2355 C868,2368 855,2378 835,2388 C815,2396 790,2396 775,2388 C760,2380 754,2365 755,2348 C756,2338 760,2332 764,2327 Z" fill="#fff"/>
<ellipse cx="906.2" cy="2310.6" rx="28.4" ry="18.6" fill="#dc5753"/>
<path d="M848,2400 C862,2380 882,2340 903,2337.5 C924,2340 944,2380 958,2400 L945,2420 L862,2420 Z" fill="#000"/>
<ellipse cx="905" cy="2430" rx="18" ry="6" fill="#000"/>
<path d="M825.4,2400.9 L866,2373.8 L877.8,2417 C860,2412 840,2407 825.4,2400.9 Z" fill="#fff"/>
<path d="M940.3,2411.9 L947.1,2381.4 L967.4,2398.3 C958,2403 950,2408 940.3,2411.9 Z" fill="#fff"/>
<ellipse cx="906.5" cy="2397.5" rx="25.4" ry="27.9" fill="#fff"/>
<path d="M905.7,2371 V2398.5" stroke="#000" stroke-width="2.4"/>
<path d="M819,2237.5 C830,2233 846,2231 855,2241 C860,2247 863,2253 865,2260 L857,2259.5 C853,2251 848,2246 839,2242 C832,2240 826,2241 819.5,2243 Z" fill="#fff"/>
<path d="M861,2262.5 L818,2270" stroke="#fff" stroke-width="6" fill="none" stroke-linecap="round"/>
<path d="M1003,2237.5 C992,2233 976,2231 967,2241 C962,2247 959,2253 957,2260 L965,2259.5 C969,2251 974,2246 983,2242 C990,2240 996,2241 1002.5,2243 Z" fill="#fff"/>
<path d="M961,2262.5 L1004,2270" stroke="#fff" stroke-width="6" fill="none" stroke-linecap="round"/>
<circle cx="830.4" cy="2321.8" r="1.7" fill="#111"/>
<circle cx="859.2" cy="2314.4" r="1.7" fill="#111"/>
<circle cx="849" cy="2333.9" r="1.7" fill="#111"/>
<circle cx="823.9" cy="2350.6" r="1.7" fill="#111"/>
<circle cx="854.6" cy="2351.6" r="1.7" fill="#111"/>
<circle cx="944.9" cy="2318" r="1.7" fill="#111"/>
<circle cx="973.7" cy="2324.6" r="1.7" fill="#111"/>
<circle cx="956" cy="2336.7" r="1.7" fill="#111"/>
<circle cx="985.8" cy="2349.7" r="1.7" fill="#111"/>
<circle cx="950.4" cy="2355.3" r="1.7" fill="#111"/>
</g>
</g>
</g>
</svg>
</body></html>
